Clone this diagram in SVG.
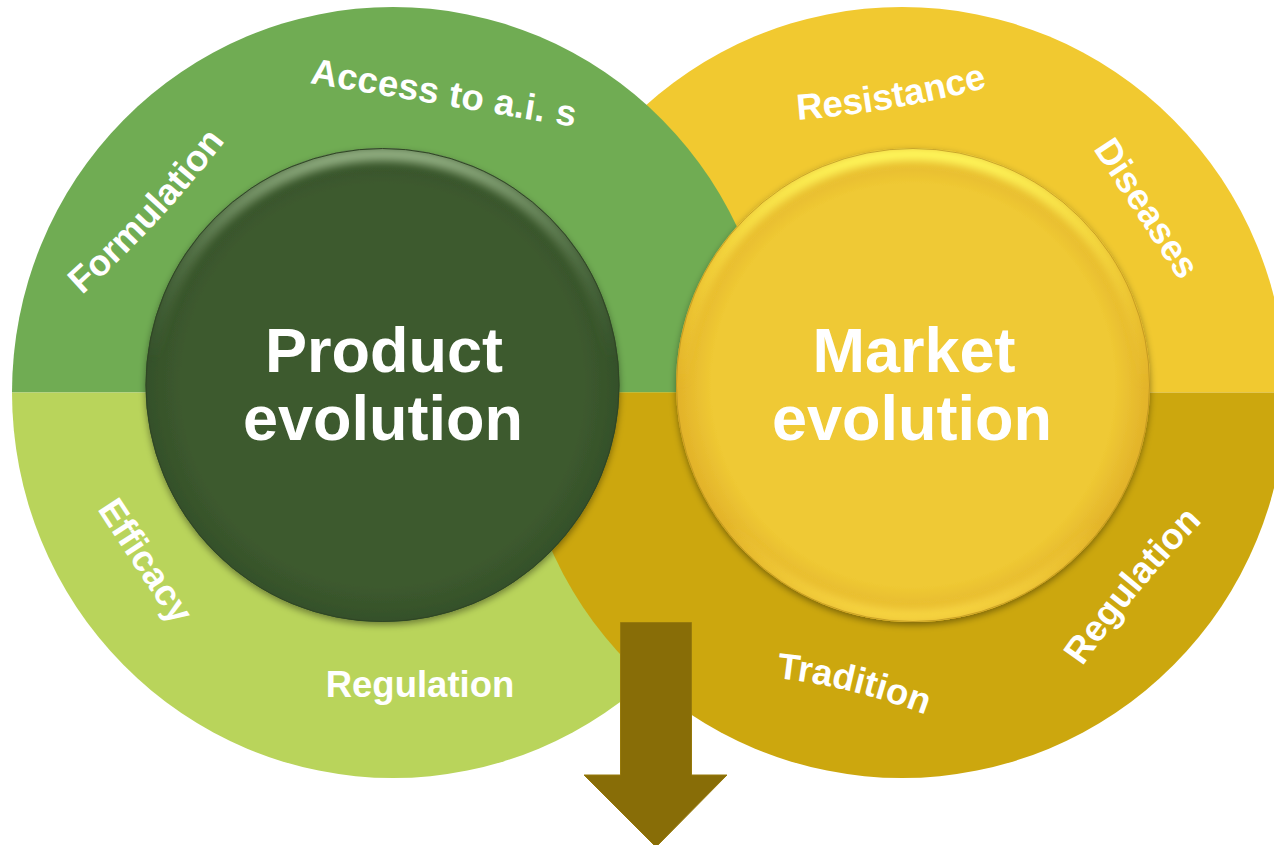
<svg xmlns="http://www.w3.org/2000/svg" width="1274" height="845" viewBox="0 0 1274 845">
  <style>
    .lbl { font-family: "Liberation Sans", Arial, Helvetica, sans-serif; font-weight: bold; font-size: 36.5px; fill: #FFFFFF; }
    .title { font-family: "Liberation Sans", Arial, Helvetica, sans-serif; font-weight: bold; font-size: 63px; fill: #FFFFFF; text-anchor: middle; }
  </style>
  <defs>
    <filter id="drop" x="-20%" y="-20%" width="140%" height="140%">
      <feDropShadow dx="0" dy="3" stdDeviation="3.5" flood-color="#000000" flood-opacity="0.4"/>
    </filter>
    <filter id="blur" x="-20%" y="-20%" width="140%" height="140%">
      <feGaussianBlur stdDeviation="4"/>
    </filter>
    <linearGradient id="rimG" x1="0" y1="0" x2="0" y2="1">
      <stop offset="0" stop-color="#9DBA8C" stop-opacity="0.9"/>
      <stop offset="0.22" stop-color="#7E9C6E" stop-opacity="0.4"/>
      <stop offset="0.45" stop-color="#5E7C50" stop-opacity="0"/>
      <stop offset="1" stop-color="#5E7C50" stop-opacity="0"/>
    </linearGradient>
    <linearGradient id="rimY" x1="0" y1="0" x2="0" y2="1">
      <stop offset="0" stop-color="#FFF85C" stop-opacity="1"/>
      <stop offset="0.25" stop-color="#FFEA48" stop-opacity="0.5"/>
      <stop offset="0.5" stop-color="#FFE040" stop-opacity="0"/>
      <stop offset="0.8" stop-color="#FFE040" stop-opacity="0"/>
      <stop offset="1" stop-color="#FFE24C" stop-opacity="0.7"/>
    </linearGradient>
    <radialGradient id="faceY" cx="0.5" cy="0.5" r="0.5">
      <stop offset="0.85" stop-color="#EFC934"/>
      <stop offset="1" stop-color="#E2B22A"/>
    </radialGradient>
    <radialGradient id="faceG" cx="0.5" cy="0.5" r="0.5">
      <stop offset="0.85" stop-color="#3D5A2E"/>
      <stop offset="1" stop-color="#34502A"/>
    </radialGradient>
    <clipPath id="clipL"><circle cx="382.5" cy="385" r="237"/></clipPath>
    <clipPath id="clipR"><circle cx="913" cy="385" r="237"/></clipPath>
    <path id="pAccess" d="M309,83 Q442,105 575,127"/>
    <path id="pForm" d="M81,296 Q161,224.5 226,140"/>
    <path id="pResist" d="M796,120 Q891.5,113 989,87"/>
    <path id="pDis" d="M1095,152 Q1136.5,215 1178,278"/>
    <path id="pEff" d="M97,509 Q135,567 174,626"/>
    <path id="pTrad" d="M776,678 Q850.5,686 926,715"/>
    <path id="pRegR" d="M1082,667 Q1137,588 1203,521"/>
  </defs>

  <rect width="1274" height="845" fill="#FFFFFF"/>

  <!-- outer rings, interlocked -->
  <g id="ring-market-top">
    <path d="M518,392.5 A384,385.5 0 0 1 1286,392.5 Z" fill="#F1C930"/>
  </g>
  <g id="ring-product-top">
    <path d="M12,392.5 A381,385.5 0 0 1 774,392.5 Z" fill="#70AC53"/>
  </g>
  <g id="ring-product-bottom">
    <path d="M12,392.5 A381,385.5 0 0 0 774,392.5 Z" fill="#B9D45B"/>
  </g>
  <g id="ring-market-bottom">
    <path d="M518,392.5 A384,385.5 0 0 0 1286,392.5 Z" fill="#CCA70E"/>
  </g>

  <!-- ring labels -->
  <g id="labels-product">
    <text class="lbl" letter-spacing="0.3"><textPath href="#pAccess" startOffset="50%" text-anchor="middle">Access to a.i. s</textPath></text>
    <text class="lbl"><textPath href="#pForm" startOffset="50%" text-anchor="middle">Formulation</textPath></text>
    <text class="lbl"><textPath href="#pEff" startOffset="50%" text-anchor="middle">Efficacy</textPath></text>
    <text class="lbl" x="420" y="697" text-anchor="middle" font-size="37">Regulation</text>
  </g>
  <g id="labels-market">
    <text class="lbl"><textPath href="#pResist" startOffset="50%" text-anchor="middle">Resistance</textPath></text>
    <text class="lbl" font-size="35.5"><textPath href="#pDis" startOffset="50%" text-anchor="middle">Diseases</textPath></text>
    <text class="lbl"><textPath href="#pTrad" startOffset="50%" text-anchor="middle">Tradition</textPath></text>
    <text class="lbl"><textPath href="#pRegR" startOffset="50%" text-anchor="middle">Regulation</textPath></text>
  </g>

  <!-- inner nodes -->
  <g id="product">
    <circle cx="382.5" cy="385" r="237" fill="url(#faceG)" filter="url(#drop)"/>
    <g clip-path="url(#clipL)">
      <circle cx="382.5" cy="385" r="231" fill="none" stroke="url(#rimG)" stroke-width="14" filter="url(#blur)"/>
    </g>
    <circle cx="382.5" cy="385" r="236.5" fill="none" stroke="#2F4624" stroke-width="1"/>
    <text class="title" x="384" y="372">Product</text>
    <text class="title" x="383" y="440">evolution</text>
  </g>

  <g id="market">
    <circle cx="913" cy="385" r="237" fill="url(#faceY)" filter="url(#drop)"/>
    <g clip-path="url(#clipR)">
      <circle cx="913" cy="385" r="231" fill="none" stroke="url(#rimY)" stroke-width="14" filter="url(#blur)"/>
    </g>
    <circle cx="913" cy="385" r="236.5" fill="none" stroke="#B8901C" stroke-width="1" stroke-opacity="0.7"/>
    <text class="title" x="914" y="372">Market</text>
    <text class="title" x="912" y="440">evolution</text>
  </g>

  <!-- downward block arrow -->
  <g id="arrow">
    <polygon points="620.5,622.5 691.5,622.5 691.5,775 727,775 656,847 584,775 620.5,775" fill="#886D07" stroke="#977A0B" stroke-width="1"/>
  </g>
</svg>
